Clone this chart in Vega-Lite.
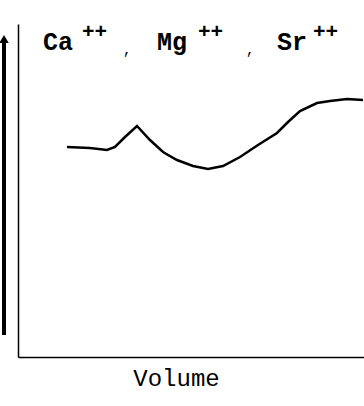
{
  "$schema": "https://vega.github.io/schema/vega-lite/v6.json",
  "autosize": {"type": "none"},
  "width": 346,
  "height": 333,
  "padding": {"left": 18, "top": 24, "right": 0, "bottom": 49},
  "background": "white",
  "config": {"view": {"stroke": null}},
  "datasets": {
    "curve": [
      {"v": 49, "r": 210}, {"v": 72, "r": 209}, {"v": 89, "r": 207}, {"v": 97, "r": 210},
      {"v": 107, "r": 220}, {"v": 119, "r": 231}, {"v": 132, "r": 217}, {"v": 145, "r": 205},
      {"v": 159, "r": 197}, {"v": 175, "r": 191}, {"v": 190, "r": 188}, {"v": 205, "r": 191},
      {"v": 222, "r": 200}, {"v": 240, "r": 212}, {"v": 259, "r": 224}, {"v": 270, "r": 235},
      {"v": 282, "r": 246}, {"v": 299, "r": 254}, {"v": 312, "r": 256}, {"v": 329, "r": 258},
      {"v": 345, "r": 257}
    ],
    "arrow": [{"v": -14, "r0": 22, "r1": 318}],
    "ions": [
      {"v": 25, "r": 307, "t": "Ca"},
      {"v": 139, "r": 307, "t": "Mg"},
      {"v": 259, "r": 307, "t": "Sr"}
    ],
    "sups": [
      {"v": 64, "r": 319, "t": "++"},
      {"v": 180, "r": 319, "t": "++"},
      {"v": 295, "r": 319, "t": "++"}
    ],
    "commas": [
      {"v": 105, "r": 303, "t": ","},
      {"v": 228, "r": 303, "t": ","}
    ]
  },
  "layer": [
    {
      "data": {"name": "curve"},
      "mark": {"type": "line", "color": "black", "strokeWidth": 2.5, "interpolate": "linear"},
      "encoding": {
        "x": {"field": "v", "type": "quantitative", "scale": {"domain": [0, 346], "nice": false, "zero": false},
              "axis": {"domain": true, "domainColor": "black", "domainWidth": 1.5, "ticks": false, "labels": false, "grid": false,
                       "title": "Volume", "titleFont": "Liberation Mono", "titleFontSize": 24, "titleFontWeight": "normal", "titleColor": "black",
                       "titleX": 158, "titleY": 28, "titleBaseline": "alphabetic", "titleAnchor": "middle", "titleAlign": "center"}},
        "y": {"field": "r", "type": "quantitative", "scale": {"domain": [0, 333], "nice": false, "zero": false},
              "axis": {"domain": true, "domainColor": "black", "domainWidth": 1.5, "ticks": false, "labels": false, "grid": false, "title": null}}
      }
    },
    {
      "data": {"name": "arrow"},
      "mark": {"type": "rule", "color": "black", "strokeWidth": 4},
      "encoding": {
        "x": {"field": "v", "type": "quantitative"},
        "y": {"field": "r0", "type": "quantitative"},
        "y2": {"field": "r1"}
      }
    },
    {
      "data": {"name": "arrow"},
      "mark": {"type": "point", "shape": "triangle-up", "filled": true, "color": "black", "size": 90, "opacity": 1},
      "encoding": {
        "x": {"field": "v", "type": "quantitative"},
        "y": {"field": "r1", "type": "quantitative"}
      }
    },
    {
      "data": {"name": "ions"},
      "mark": {"type": "text", "font": "Liberation Mono", "fontSize": 25, "fontWeight": "bold", "align": "left", "baseline": "alphabetic", "color": "black"},
      "encoding": {
        "x": {"field": "v", "type": "quantitative"},
        "y": {"field": "r", "type": "quantitative"},
        "text": {"field": "t"}
      }
    },
    {
      "data": {"name": "sups"},
      "mark": {"type": "text", "font": "Liberation Mono", "fontSize": 21, "fontWeight": "bold", "align": "left", "baseline": "alphabetic", "color": "black"},
      "encoding": {
        "x": {"field": "v", "type": "quantitative"},
        "y": {"field": "r", "type": "quantitative"},
        "text": {"field": "t"}
      }
    },
    {
      "data": {"name": "commas"},
      "mark": {"type": "text", "font": "Liberation Mono", "fontSize": 14, "align": "left", "baseline": "alphabetic", "color": "black"},
      "encoding": {
        "x": {"field": "v", "type": "quantitative"},
        "y": {"field": "r", "type": "quantitative"},
        "text": {"field": "t"}
      }
    }
  ]
}
